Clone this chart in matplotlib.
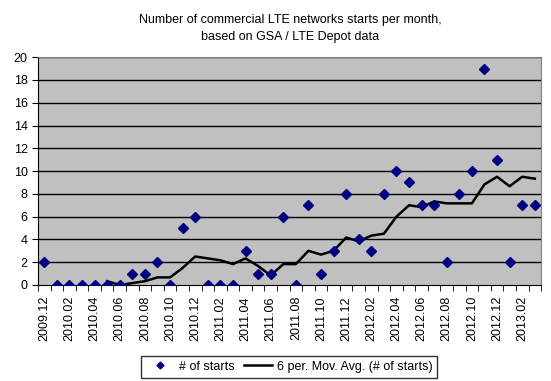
import matplotlib
matplotlib.use("Agg")
import matplotlib.pyplot as plt
import pandas as pd
from matplotlib.ticker import MultipleLocator, FixedLocator

plt.rcParams['font.family'] = ['Liberation Sans', 'DejaVu Sans']

months = ['2009.12', '2010.01', '2010.02', '2010.03', '2010.04', '2010.05', '2010.06',
          '2010.07', '2010.08', '2010.09', '2010.10', '2010.11', '2010.12',
          '2011.01', '2011.02', '2011.03', '2011.04', '2011.05', '2011.06',
          '2011.07', '2011.08', '2011.09', '2011.10', '2011.11', '2011.12',
          '2012.01', '2012.02', '2012.03', '2012.04', '2012.05', '2012.06',
          '2012.07', '2012.08', '2012.09', '2012.10', '2012.11', '2012.12',
          '2013.01', '2013.02', '2013.03']
starts = [2, 0, 0, 0, 0, 0, 0, 1, 1, 2, 0, 5, 6, 0, 0, 0, 3, 1, 1, 6,
          0, 7, 1, 3, 8, 4, 3, 8, 10, 9, 7, 7, 2, 8, 10, 19, 11, 2, 7, 7]

# 6 period moving average trendline, as excel draws it
mov_avg = pd.Series(starts).rolling(6).mean()

x = list(range(len(months)))

fig = plt.figure(figsize=(5.51, 3.81), dpi=100)
ax = fig.add_axes([0.069, 0.252, 0.913, 0.598])
ax.set_facecolor('#c0c0c0')

for y in range(2, 21, 2):
    ax.axhline(y, color='black', lw=1, zorder=1)

ax.plot(x, mov_avg, color='black', lw=1.8, zorder=2,
        label='6 per. Mov. Avg. (# of starts)')
ax.plot(x, starts, ls='none', marker='D', ms=5, color='#000080', zorder=3,
        label='# of starts')

ax.set_xlim(-0.5, len(months) - 0.5)
ax.set_ylim(0, 20)
ax.yaxis.set_major_locator(MultipleLocator(2))
ax.xaxis.set_major_locator(FixedLocator(x[::2]))
ax.set_xticklabels(months[::2], rotation=90, fontsize=9)
ax.xaxis.set_minor_locator(FixedLocator([i - 0.5 for i in range(len(months) + 1)]))
ax.tick_params(axis='x', which='major', length=0, pad=8)
ax.tick_params(axis='x', which='minor', length=4, direction='out')
ax.tick_params(axis='y', labelsize=9, length=4)

for s in ['top', 'right']:
    ax.spines[s].set_color('#808080')
for s in ['left', 'bottom']:
    ax.spines[s].set_color('black')

fig.text(0.526, 0.962, 'Number of commercial LTE networks starts per month,\nbased on GSA / LTE Depot data',
         ha='center', va='top', fontsize=9, linespacing=1.5)

h, l = ax.get_legend_handles_labels()
fig.legend(h[::-1], l[::-1], loc='center', bbox_to_anchor=(0.525, 0.038), ncol=2,
           fontsize=9, frameon=True, fancybox=False, edgecolor='black',
           handlelength=2.2, columnspacing=0.8, handletextpad=0.4,
           borderpad=0.4, markerscale=0.7)

fig.savefig('out.png', dpi=100)
